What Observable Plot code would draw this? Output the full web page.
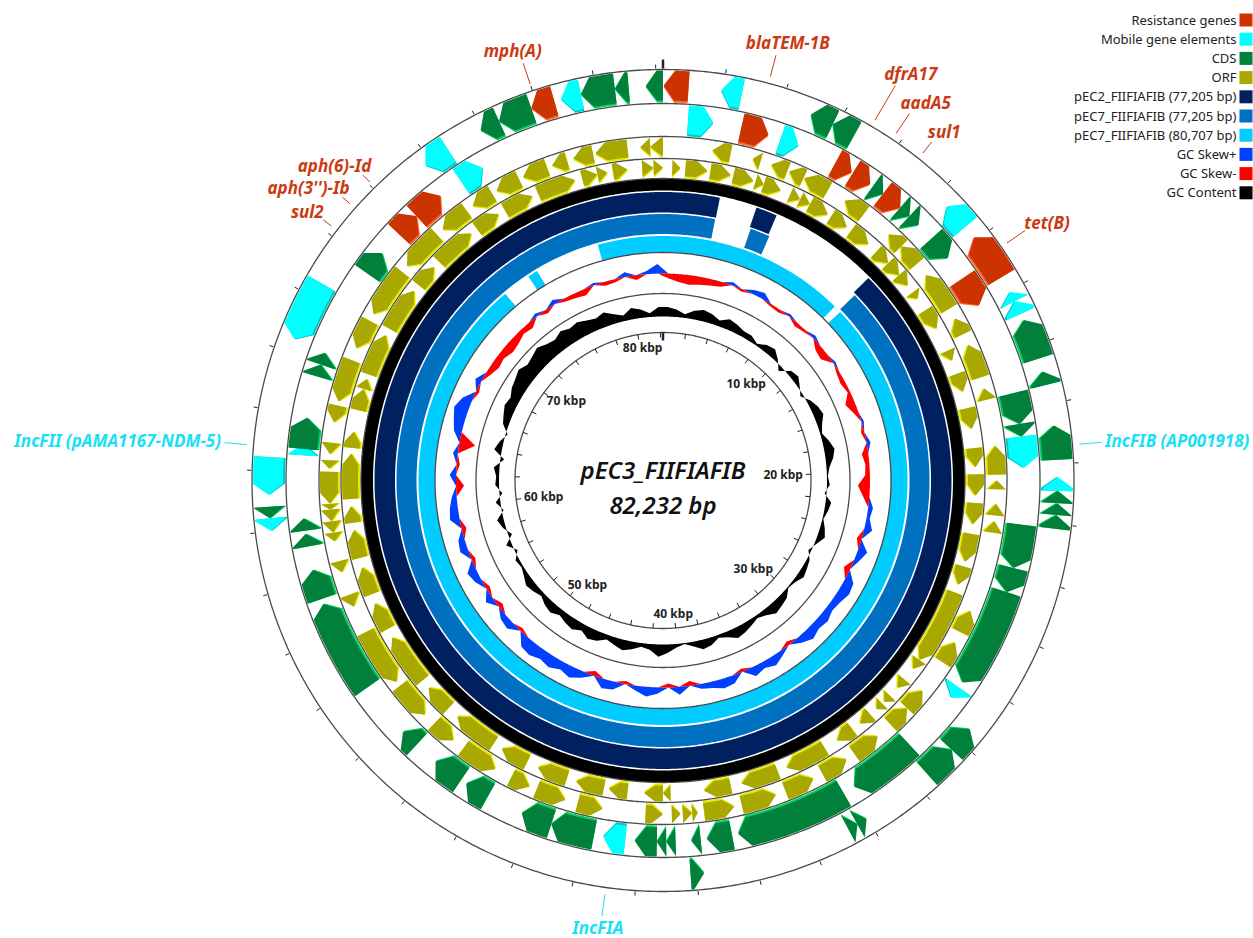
<!DOCTYPE html>
<html>
<head>
<meta charset="utf-8">
<script src="https://cdn.jsdelivr.net/npm/d3@7"></script>
<script src="https://cdn.jsdelivr.net/npm/@observablehq/plot@0.6"></script>
<style>
html,body{margin:0;padding:0;background:#fff;}
#chart svg{display:block;}
</style>
</head>
<body>
<div id="chart"></div>
<script>
// ================= DATA =================
const genomeKbp = 82.232;
const plasmidName = "pEC3_FIIFIAFIB";
const plasmidSize = "82,232 bp";

// features: [start kbp, end kbp, type]  R=resistance, M=mobile, C=CDS
const lane1Features = [
  [75.95,76.63,"C"],[76.63,77.78,"C"],[77.78,78.58,"R"],[78.81,79.49,"M"],[79.49,80.63,"C"],
  [80.63,81.09,"C"],[81.66,82.23,"C"],[0.02,0.85,"R"],[1.94,2.63,"M"],[5.03,5.82,"C"],
  [5.82,6.62,"C"],[10.51,11.42,"M"],[11.88,13.48,"R"],[14.05,14.39,"M"],[14.39,14.85,"M"],
  [15.08,16.45,"C"],[16.90,17.36,"C"],[18.73,19.87,"C"],[20.44,20.90,"M"],[20.90,21.31,"C"],
  [21.31,21.70,"C"],[21.70,22.16,"C"],[29.47,30.38,"C"],[30.38,31.52,"C"],[34.03,34.38,"C"],
  [34.38,34.72,"C"],[39.75,40.20,"C"],[60.00,60.42,"M"],[60.42,60.80,"C"],[61.20,62.45,"M"],
  [66.47,68.53,"M"],[73.78,74.69,"M"]
];
const lane2Features = [
  [0.91,1.83,"M"],[2.86,3.88,"R"],[4.34,5.03,"M"],[6.51,7.19,"R"],[7.24,7.99,"R"],
  [8.11,8.57,"C"],[8.57,9.37,"R"],[9.37,9.82,"C"],[9.82,10.28,"C"],[10.96,11.88,"C"],
  [12.79,13.93,"R"],[17.36,18.50,"C"],[18.50,18.96,"C"],[18.96,20.10,"M"],[22.16,23.76,"C"],
  [23.76,24.67,"C"],[24.67,28.32,"C"],[28.55,29.01,"M"],[31.29,33.81,"C"],[34.26,38.37,"C"],
  [38.60,39.52,"C"],[39.75,40.09,"C"],[40.66,41.00,"C"],[41.00,41.34,"C"],[41.34,42.14,"C"],
  [42.49,43.29,"M"],[43.63,45.23,"C"],[45.23,46.37,"C"],[47.74,48.65,"C"],[48.88,50.02,"C"],
  [50.94,51.62,"C"],[53.68,57.11,"C"],[57.30,58.40,"C"],[59.27,59.73,"C"],[59.85,60.30,"C"],
  [62.59,63.00,"M"],[62.82,63.96,"C"],[65.50,65.95,"C"],[65.95,66.40,"C"],
  [69.67,70.58,"C"],[71.50,72.41,"R"],[72.41,73.55,"R"],[74.46,75.38,"M"]
];
const orfOuter = [
  [76.57,77.59],[77.80,78.42],[78.67,79.47],[79.56,80.84],[81.34,81.73],[81.73,82.23],
  [1.94,2.67],[3.56,3.88],[4.32,5.00],[5.07,5.69],[5.72,6.76],[7.54,8.45],[9.71,10.39],
  [10.39,11.31],[11.88,13.48],[13.93,14.62],[15.08,16.45],[16.90,17.36],[19.19,20.33],
  [20.56,20.90],[21.47,21.93],[22.16,22.61],[25.81,26.73],[27.18,28.10],[29.47,30.38],
  [30.38,31.29],[31.98,33.12],[33.5,34.6],[35.0,36.2],[36.6,38.0],[38.3,39.5],
  [39.75,39.97],[39.97,40.34],[40.43,40.77],[41.12,41.80],[43.5,44.5],[45.0,46.2],
  [46.5,47.3],[48.0,49.5],[50.0,51.0],[51.5,53.0],[53.2,55.5],[56.6,57.1],[58.02,58.48],
  [59.27,59.62],[59.62,60.07],[60.07,60.53],[60.53,60.76],[60.76,62.02],[62.13,62.47],
  [62.70,63.16],[63.96,64.64],[64.8,66.5],[67.0,68.2],[68.5,70.5],[70.8,72.5],[72.8,74.0],
  [74.3,75.2],[75.4,76.4]
];
const orfInner = [
  [76.86,78.51],[78.81,79.47],[79.47,79.90],[80.13,80.75],[81.36,81.84],[81.84,82.23],
  [0.39,0.73],[0.94,1.87],[1.99,2.86],[2.97,3.84],[3.93,4.29],[4.29,5.05],[5.48,5.94],
  [5.94,6.40],[6.40,7.26],[7.42,8.22],[8.45,9.37],[9.82,10.51],[10.51,11.19],[11.19,11.76],
  [12.11,12.45],[13.02,13.93],[14.96,15.42],[16.0,16.8],[17.5,18.4],[19.2,20.0],[20.3,21.2],
  [21.5,22.4],[22.8,24.0],[24.2,25.0],[25.35,28.55],[28.55,29.01],[29.58,30.04],[30.49,30.84],
  [30.95,31.29],[31.63,32.21],[32.6,33.4],[34.0,35.8],[36.2,37.8],[38.26,39.40],[40.80,41.12],
  [41.12,41.91],[42.60,43.40],[43.6,44.8],[45.2,46.5],[47.0,48.2],[48.6,50.5],[51.0,52.2],
  [52.6,54.8],[55.2,56.4],[56.8,58.0],[58.4,59.6],[59.9,60.6],[60.9,62.8],[63.04,63.73],
  [64.64,65.56],[65.56,66.01],[66.2,68.0],[68.3,70.2],[70.5,71.5],[71.8,73.6],[73.9,75.0],
  [75.3,76.6]
];
// BLAST hit segments [start kbp, end kbp]
const blastPEC2 = [[0,2.60],[4.32,5.30],[10.37,82.232]];
const blastPEC7a = [[0,2.58],[4.39,5.37],[10.50,82.232]];
const blastPEC7b = [[0,10.20],[10.60,73.05],[74.60,75.15],[78.70,82.232]];

// GC skew per 3-degree bin (positive = skew+, negative = skew-)
const gcSkew = [
 -6,-10,-12,-10,-8,-6,4,-3,5,8, -3,-4,3,-5,-3,4,-8,-10,3,-4,
 -6,-3,-12,-6,3,-4,5,-8,-5,-6, -15,-8,6,4,10,-6,12,6,-8,12,
 14,10,8,12,10,14,8,-5,6,12, 8,12,-4,10,12,8,6,-6,10,-5,
 8,12,6,-4,10,12,-6,8,14,10, 15,12,16,14,-4,10,8,-6,10,-5,
 8,12,-5,10,8,-6,12,10,6,-10, 8,-4,6,-20,10,14,18,12,-4,8,
 -6,-10,-8,-12,-10,-6,-8,4,-5,6, -4,-6,-8,3,-5,-4,6,-6,4,12
];
// GC content deviation per 3-degree bin
const gcContent = [
 10,8,4,9,12,10,6,11,9,6, 6,2,7,9,3,-5,5,7,2,-3,
 4,8,10,5,2,7,11,8,3,1, 3,-2,6,4,1,5,8,2,-3,3,
 5,7,3,1,7,9,11,6,3,6, 9,11,6,3,8,10,5,1,4,9,
 13,6,4,8,11,8,5,10,12,7, 11,9,6,10,8,4,7,9,5,2,
 4,-3,6,-4,3,7,-2,5,-3,4, 3,6,-4,8,4,-2,6,9,12,10,
 14,16,19,15,17,20,16,14,18,15, 17,14,12,15,10,6,12,9,4,10
];

const legendNames = ["Resistance genes","Mobile gene elements","CDS","ORF",
  "pEC2_FIIFIAFIB (77,205 bp)","pEC7_FIIFIAFIB (77,205 bp)","pEC7_FIIFIAFIB (80,707 bp)",
  "GC Skew+","GC Skew-","GC Content"];

const resLabels = ["mph(A)","blaTEM-1B","dfrA17","aadA5","sul1","tet(B)","aph(6)-Id","aph(3'')-Ib","sul2"];
const resLabelKbp = [78.00,3.40,6.96,7.74,8.78,12.65,72.07,71.15,70.24];
const incLabels = ["IncFII (pAMA1167-NDM-5)","IncFIB (AP001918)","IncFIA"];
const incLabelKbp = [62.80,19.42,42.94];

// ================= STYLE / LAYOUT =================
const featColor = {R:"#cc3300", M:"#00ffff", C:"#00803a", O:"#a8a800"};
const featShade = {R:"#ff6a33", M:"#00c8c8", C:"#00d060", O:"#e8e800"};
const legendColors = ["#cc3300","#00ffff","#00803a","#a8a800","#002060","#0070c0","#00ccff","#0040ff","#ff0000","#000000"];
const resColor = "#cc3a12", incColor = "#19e0f5";
const W = 1253, H = 938, CX = 662.5, CY = 480;
const FONT = "'Noto Sans', 'Open Sans', sans-serif";
const lanes = [
  {feats: lane1Features, r0: 377, r1: 411, dir: -1},
  {feats: lane2Features, r0: 344, r1: 377, dir: 1},
  {feats: orfOuter.map(d => [d[0], d[1], "O"]), r0: 322, r1: 344, dir: -1},
  {feats: orfInner.map(d => [d[0], d[1], "O"]), r0: 302, r1: 322, dir: 1}
];
const labelLineLen = {"dfrA17": 40, "aadA5": 24, "sul1": 14, "aph(6)-Id": 10, "aph(3'')-Ib": 10, "sul2": 10};
const LABEL_PX = 17;

// ================= GEOMETRY =================
const TAU = 2 * Math.PI;
const ang = k => k / genomeKbp * TAU;
const P = (k, r) => [r * Math.sin(ang(k)), -r * Math.cos(ang(k))];
function arc(k0, k1, r, out) {
  const n = Math.max(2, Math.ceil(Math.abs(k1 - k0) / genomeKbp * 720));
  for (let i = 0; i <= n; i++) out.push(P(k0 + (k1 - k0) * i / n, r));
  return out;
}
let pid = 0;
function addPoly(rows, pts, fill) {
  const id = pid++;
  for (const [x, y] of pts) rows.push({id, x, y, fill});
}
function arrowPts(s, e, r0, r1, dir) {
  const rm = (r0 + r1) / 2;
  const kPerPx = genomeKbp / (TAU * rm);
  const headK = Math.min(11 * kPerPx, e - s);
  const pts = [];
  if (dir > 0) {
    const b = e - headK;
    arc(s, b, r1, pts); pts.push(P(e, rm)); arc(b, s, r0, pts);
  } else {
    const b = s + headK;
    pts.push(P(s, rm)); arc(b, e, r1, pts); arc(e, b, r0, pts);
  }
  return pts;
}

// features
const shadeRows = [], featRows = [];
for (const lane of lanes) {
  for (const [s, e, t] of lane.feats) {
    addPoly(shadeRows, arrowPts(s, e, lane.r0 + 1, lane.r1 - 2, lane.dir), featShade[t]);
    addPoly(featRows, arrowPts(s, e, lane.r0 + 3, lane.r1 - 1, lane.dir), featColor[t]);
  }
}

// rings
const ringRows = [];
function ringSeg(k0, k1, r0, r1, fill) {
  const pts = []; arc(k0, k1, r1, pts); arc(k1, k0, r0, pts); addPoly(ringRows, pts, fill);
}
ringSeg(0, genomeKbp, 290, 302, "#000000");
for (const [s, e] of blastPEC2) ringSeg(s, e, 268, 288.5, legendColors[4]);
for (const [s, e] of blastPEC7a) ringSeg(s, e, 246.5, 266.5, legendColors[5]);
for (const [s, e] of blastPEC7b) ringSeg(s, e, 228, 244.5, legendColors[6]);

// GC skew & content as continuous envelopes around a baseline
const gcRows = [];
const nB = gcSkew.length, binK = genomeKbp / nB;
function envelope(vals, base, scale, clamp) {
  const pts = [];
  vals.forEach((v, i) => pts.push(P((i + 0.5) * binK, base + clamp(v) * scale)));
  pts.push(P(genomeKbp + 0.5 * binK, base + clamp(vals[0]) * scale));
  arc(genomeKbp + 0.5 * binK, 0.5 * binK, base, pts);
  return pts;
}
addPoly(gcRows, envelope(gcSkew, 207, 0.8, v => Math.max(v, 0)), legendColors[7]);
addPoly(gcRows, envelope(gcSkew, 207, 0.8, v => Math.min(v, 0)), legendColors[8]);
addPoly(gcRows, envelope(gcContent, 164, 0.95, v => v), legendColors[9]);

// circles
const circleRows = [];
for (const r of [411, 377, 344, 322, 302, 228, 187, 148]) {
  arc(0, genomeKbp, r, []).forEach(([x, y]) => circleRows.push({r, x, y}));
}

// ticks
const outerTicks = d3.range(0, genomeKbp, 2);
const innerTicks = d3.range(0, genomeKbp, 2);

// text measuring
const ctx = document.createElement("canvas").getContext("2d");
function textW(t, font) { ctx.font = font; return ctx.measureText(t).width; }

// kbp labels
const kbpLabels = d3.range(10, 81, 10).map(k => {
  const w = textW(k + " kbp", "bold 12px " + FONT), h = 12;
  const [x, y] = P(k, 140);
  const t = ang(k);
  return {text: k + " kbp", x: x - Math.sin(t) * w / 2, y: y + Math.cos(t) * h / 2};
});

// outer labels
function buildLabels(names, kbps, color, fontPx) {
  return names.map((name, i) => {
    const k = kbps[i], t = ang(k);
    const len = labelLineLen[name] || 22;
    const r0 = 418, r1 = 418 + len;
    const w = textW(name, `italic bold ${fontPx}px ` + FONT), h = fontPx;
    const [x1, y1] = P(k, r0), [x2, y2] = P(k, r1);
    const [xt, yt] = P(k, r1 + 4);
    return {name, color, x1, y1, x2, y2, tx: xt + Math.sin(t) * w / 2, ty: yt - Math.cos(t) * h / 2};
  });
}
const labelRows = [
  ...buildLabels(resLabels, resLabelKbp, resColor, LABEL_PX),
  ...buildLabels(incLabels, incLabelKbp, incColor, LABEL_PX)
];

// legend
const legendRows = legendNames.map((name, i) => ({name, color: legendColors[i], y: 20 + i * 19.2 - CY}));

const plot = Plot.plot({
  width: W, height: H, margin: 0,
  x: {domain: [-CX, W - CX], range: [0, W], axis: null},
  y: {domain: [-CY, H - CY], range: [0, H], axis: null},
  color: {type: "identity"},
  style: {fontFamily: FONT, background: "#fff"},
  marks: [
    Plot.link(outerTicks, {
      x1: k => P(k, 412)[0], y1: k => P(k, 412)[1],
      x2: k => P(k, k === 0 ? 421 : 416)[0], y2: k => P(k, k === 0 ? 421 : 416)[1],
      stroke: "#222", strokeWidth: k => k === 0 ? 2.5 : 1
    }),
    Plot.line(ringRows, {x: "x", y: "y", z: "id", fill: "fill", stroke: "none", curve: "linear-closed"}),
    Plot.line(circleRows, {x: "x", y: "y", z: "r", stroke: "#4a4a4a", strokeWidth: 1.3, curve: "linear-closed"}),
    Plot.line(shadeRows, {x: "x", y: "y", z: "id", fill: "fill", stroke: "none", curve: "linear-closed"}),
    Plot.line(featRows, {x: "x", y: "y", z: "id", fill: "fill", stroke: "none", curve: "linear-closed"}),
    Plot.line(gcRows, {x: "x", y: "y", z: "id", fill: "fill", stroke: "none", curve: "linear-closed"}),
    Plot.link(innerTicks, {
      x1: k => P(k, 148)[0], y1: k => P(k, 148)[1],
      x2: k => P(k, k === 0 ? 140 : 143)[0], y2: k => P(k, k === 0 ? 140 : 143)[1],
      stroke: "#222", strokeWidth: k => k === 0 ? 2.5 : 1
    }),
    Plot.text(kbpLabels, {x: "x", y: "y", text: "text", fontSize: 12, fontWeight: "bold", fill: "#222"}),
    Plot.text([plasmidName], {x: 0, y: -9, text: d => d, fontSize: 24, fontStyle: "italic", fontWeight: 600, fill: "#111"}),
    Plot.text([plasmidSize], {x: 0, y: 26, text: d => d, fontSize: 24, fontStyle: "italic", fontWeight: 600, fill: "#111"}),
    Plot.link(labelRows, {x1: "x1", y1: "y1", x2: "x2", y2: "y2", stroke: "color", strokeWidth: 1}),
    Plot.text(labelRows, {x: "tx", y: "ty", text: "name", fill: "color", fontSize: LABEL_PX, fontWeight: "bold", fontStyle: "italic"}),
    Plot.rect(legendRows, {x1: 1239.5 - CX, x2: 1252.5 - CX, y1: d => d.y - 6.5, y2: d => d.y + 6.5, fill: "color"}),
    Plot.text(legendRows, {x: 1236 - CX, y: "y", text: "name", textAnchor: "end", fontSize: 13, fill: "#222"})
  ]
});
document.getElementById("chart").appendChild(plot);
</script>
</body>
</html>
